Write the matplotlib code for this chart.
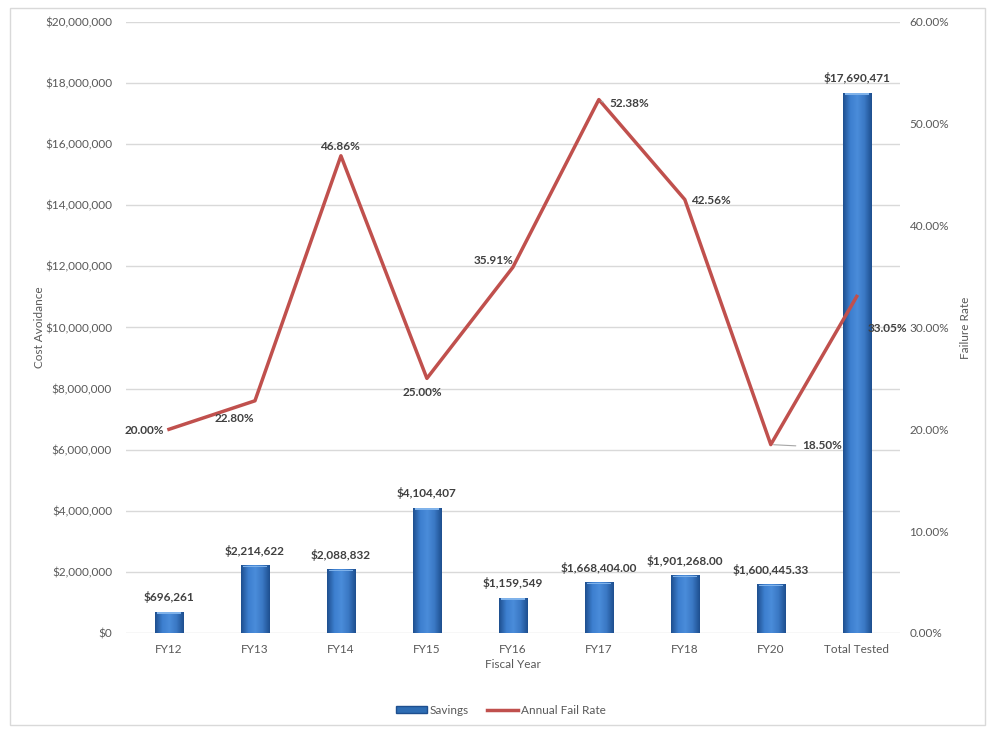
import numpy as np
import matplotlib.pyplot as plt
from matplotlib.colors import LinearSegmentedColormap
from matplotlib.patches import Rectangle, Patch
from matplotlib.lines import Line2D
from matplotlib.ticker import FuncFormatter

plt.rcParams['font.family'] = ['Lato', 'DejaVu Sans']

categories = ["FY12", "FY13", "FY14", "FY15", "FY16", "FY17", "FY18", "FY20", "Total Tested"]
savings = [696261, 2214622, 2088832, 4104407, 1159549, 1668404.00, 1901268.00, 1600445.33, 17690471]
savings_labels = ["$696,261", "$2,214,622", "$2,088,832", "$4,104,407", "$1,159,549",
                  "$1,668,404.00", "$1,901,268.00", "$1,600,445.33", "$17,690,471"]
fail_rate = [20.00, 22.80, 46.86, 25.00, 35.91, 52.38, 42.56, 18.50, 33.05]

# label offsets (points) for the fail rate labels, roughly as in the original
rate_offsets = [(-18, -1), (-15, -13), (-1, 7), (-3, -10), (-14, 5), (22, -3), (19, -1), (37, -1), (22, -23)]
grey = "#595959"
red = "#C0504D"

fig = plt.figure(figsize=(9.92, 7.30), dpi=100)
fig.patches.append(Rectangle((0.010, 0.007), 0.983, 0.982, transform=fig.transFigure,
                             fill=False, edgecolor="#D9D9D9", linewidth=1.0))
ax = fig.add_axes([0.127, 0.1329, 0.780, 0.837])
ax2 = ax.twinx()

x = np.arange(len(categories))
width = 0.33
bars = ax.bar(x, savings, width, color="#2E6DB4", zorder=2)

# horizontal gradient on each bar to mimic the bevel look
cmap = LinearSegmentedColormap.from_list("bev", ["#1E4F8F", "#3D7FCF", "#4A8CDA", "#3A78C4", "#1E4F8F"])
grad = np.linspace(0, 1, 64).reshape(1, -1)
for b in bars:
    x0, w, h = b.get_x(), b.get_width(), b.get_height()
    im = ax.imshow(grad, cmap=cmap, aspect="auto", extent=[x0, x0 + w, 0, h], zorder=2.1)
    im.set_clip_path(b)
    ax.add_patch(Rectangle((x0 + w * 0.08, h - 7e4), w * 0.84, 5e4,
                           color="#7FB2EA", zorder=2.2, linewidth=0))

for xi, v, lab in zip(x, savings, savings_labels):
    ax.annotate(lab, (xi, v), xytext=(0, 6), textcoords="offset points", ha="center", va="bottom",
                fontsize=8.5, fontweight="bold", color="#404040")

ax.set_ylim(0, 20000000)
ax.set_xlim(-0.5, len(categories) - 0.5)
ax.set_yticks(np.arange(0, 20000001, 2000000))
ax.yaxis.set_major_formatter(FuncFormatter(lambda v, p: "${:,.0f}".format(v)))
ax.set_xticks(x)
ax.set_xticklabels(categories)
ax.grid(axis="y", color="#D9D9D9", linewidth=1, zorder=0)
ax.set_axisbelow(True)

ax2.plot(x, fail_rate, color=red, linewidth=2.5, zorder=3)
ax2.set_ylim(0, 60)
ax2.set_yticks(np.arange(0, 61, 10))
ax2.yaxis.set_major_formatter(FuncFormatter(lambda v, p: "{:.2f}%".format(v)))
for i, (xi, r) in enumerate(zip(x, fail_rate)):
    dx, dy = rate_offsets[i]
    ax2.annotate("{:.2f}%".format(r), (xi, r), xytext=(dx, dy), textcoords="offset points",
                 ha="center", va="center", fontsize=8.5, fontweight="bold", color="#404040")
    if i in (5, 7):
        ax2.annotate("", (xi, r), xytext=(dx - 17, dy), textcoords="offset points",
                     arrowprops=dict(arrowstyle="-", color="#A6A6A6", lw=0.8))

for a in (ax, ax2):
    for s in a.spines.values():
        s.set_visible(False)
    a.tick_params(length=0, labelsize=8.5, colors=grey)
ax.tick_params(axis="y", pad=10)
ax2.tick_params(axis="y", pad=7)
ax.tick_params(axis="x", pad=8)

ax.set_ylabel("Cost Avoidance", fontsize=8.5, color=grey, labelpad=0)
ax2.set_ylabel("Failure Rate", fontsize=8.5, color=grey, labelpad=8)
ax.set_xlabel("Fiscal Year", fontsize=8.5, color=grey, labelpad=3)

handles = [Patch(facecolor="#2E6DB4", edgecolor="#1E4F8F"), Line2D([], [], color=red, linewidth=2.5)]
fig.legend(handles, ["Savings", "Annual Fail Rate"], loc="center", bbox_to_anchor=(0.505, 0.027),
           ncol=2, frameon=False, fontsize=8.5, labelcolor=grey, handlelength=2.6,
           handleheight=0.6, handletextpad=0.3, columnspacing=1.5)

fig.savefig("out.png", dpi=100)
